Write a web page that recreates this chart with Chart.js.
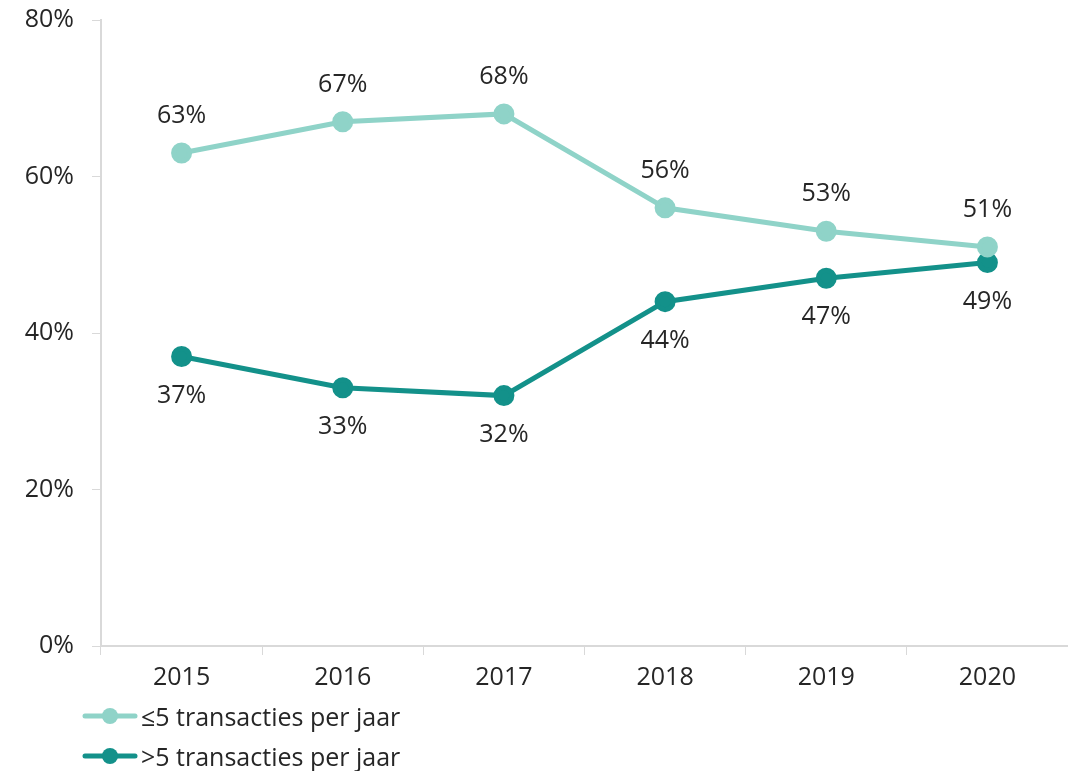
<!DOCTYPE html>
<html>
<head>
<meta charset="utf-8">
<script src="https://cdn.jsdelivr.net/npm/chart.js@4"></script>
<style>
  html, body { margin: 0; padding: 0; background: #fff; }
  #wrap { position: relative; width: 1068px; height: 771px; }
  .leg { position: absolute; left: 82px; font: 25px "Open Sans", sans-serif; color: #262626; display: flex; align-items: center; }
  .leg canvas { margin-right: 3px; }
</style>
</head>
<body>
<div id="wrap">
  <canvas id="chart" width="1068" height="771"></canvas>
  <div class="leg" id="leg1" style="top:699px"></div>
  <div class="leg" id="leg2" style="top:739px"></div>
</div>
<script>
var years = ['2015', '2016', '2017', '2018', '2019', '2020'];
var lowValues = [63, 67, 68, 56, 53, 51];
var highValues = [37, 33, 32, 44, 47, 49];
var seriesNames = ['≤5 transacties per jaar', '>5 transacties per jaar'];
var seriesColors = ['#8fd3c8', '#13918a'];
var yTicks = [0, 20, 40, 60, 80];

var textColor = '#262626';
var axisColor = '#d9d9d9';
var font = { family: '"Open Sans", sans-serif', size: 25 };

// labels above for the first series, below for the second
var valueLabels = {
    id: 'valueLabels',
    afterDatasetsDraw: function(chart) {
        var ctx = chart.ctx;
        ctx.save();
        ctx.font = '25px "Open Sans", sans-serif';
        ctx.fillStyle = textColor;
        ctx.textAlign = 'center';
        ctx.textBaseline = 'middle';
        chart.data.datasets.forEach(function(ds, i) {
            var meta = chart.getDatasetMeta(i);
            meta.data.forEach(function(pt, j) {
                var dy = i == 0 ? -37 : 39;
                ctx.fillText(ds.data[j] + '%', pt.x, pt.y + dy);
            });
        });
        ctx.restore();
    }
};

var chart = new Chart(document.getElementById('chart'), {
    type: 'line',
    data: {
        labels: years,
        datasets: [{
            label: seriesNames[0],
            data: lowValues,
            borderColor: seriesColors[0],
            backgroundColor: seriesColors[0],
            borderWidth: 5,
            pointRadius: 8,
            pointHoverRadius: 8,
            tension: 0
        }, {
            label: seriesNames[1],
            data: highValues,
            borderColor: seriesColors[1],
            backgroundColor: seriesColors[1],
            borderWidth: 5,
            pointRadius: 8,
            pointHoverRadius: 8,
            tension: 0
        }]
    },
    options: {
        responsive: false,
        animation: false,
        layout: { autoPadding: false, padding: { top: 20, right: -2, bottom: 80, left: 0 } },
        plugins: {
            legend: { display: false },
            tooltip: { enabled: false }
        },
        scales: {
            x: {
                offset: true,
                grid: { drawOnChartArea: false, drawTicks: true, tickLength: 9, color: axisColor, offset: true },
                border: { color: axisColor, width: 2 },
                ticks: { font: font, color: textColor, padding: 8 },
                afterFit: function(s) { s.height = 45; s.paddingLeft = 0; s.paddingRight = 0; }
            },
            y: {
                min: 0,
                max: 80,
                afterBuildTicks: function(s) { s.ticks = yTicks.map(function(v) { return { value: v }; }); },
                grid: { drawOnChartArea: false, drawTicks: true, tickLength: 9, color: axisColor },
                border: { color: axisColor, width: 2 },
                ticks: { font: font, color: textColor, padding: 18, callback: function(v) { return v + '%'; } },
                afterFit: function(s) { s.width = 101; s.paddingTop = 0; s.paddingBottom = 0; }
            }
        }
    },
    plugins: [valueLabels]
});

// legend rows: line with a dot
function legendRow(id, name, color) {
    var el = document.getElementById(id);
    var c = document.createElement('canvas');
    c.width = 56; c.height = 20;
    var g = c.getContext('2d');
    g.strokeStyle = color; g.lineWidth = 5; g.lineCap = 'round';
    g.beginPath(); g.moveTo(3, 10); g.lineTo(53, 10); g.stroke();
    g.fillStyle = color;
    g.beginPath(); g.arc(28, 10, 8, 0, Math.PI * 2); g.fill();
    el.appendChild(c);
    var s = document.createElement('span');
    s.textContent = name;
    el.appendChild(s);
}
legendRow('leg1', seriesNames[0], seriesColors[0]);
legendRow('leg2', seriesNames[1], seriesColors[1]);
</script>
</body>
</html>
